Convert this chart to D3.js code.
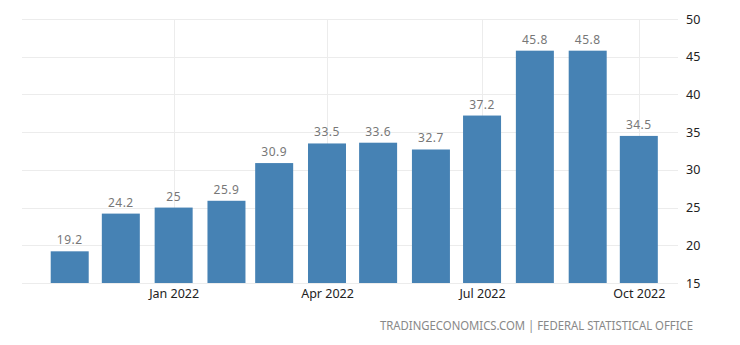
<!DOCTYPE html>
<html>
<head>
<meta charset="utf-8">
<script src="https://cdn.jsdelivr.net/npm/d3@7"></script>
<style>
  html, body { margin: 0; padding: 0; background: #fff; }
  svg { display: block; font-family: "Noto Sans", "Open Sans", sans-serif; }
</style>
</head>
<body>
<svg id="chart" width="740" height="345"></svg>
<script>
// Monthly values, Nov 2021 – Oct 2022
const months = ["2021-11", "2021-12", "2022-01", "2022-02", "2022-03", "2022-04",
                "2022-05", "2022-06", "2022-07", "2022-08", "2022-09", "2022-10"];
const values = [19.2, 24.2, 25, 25.9, 30.9, 33.5, 33.6, 32.7, 37.2, 45.8, 45.8, 34.5];
const yTicks = [15, 20, 25, 30, 35, 40, 45, 50];
const xTickMonths = ["2022-01", "2022-04", "2022-07", "2022-10"];
const sourceText = "TRADINGECONOMICS.COM | FEDERAL STATISTICAL OFFICE";

const parse = d3.timeParse("%Y-%m");
const fmt = d3.timeFormat("%b %Y");

const svg = d3.select("#chart");
const plot = { left: 22, right: 678, top: 19, bottom: 283 };

const x = d3.scaleTime()
  .domain([new Date(2021, 9, 4), new Date(2022, 9, 24)])
  .range([plot.left, plot.right]);

const y = d3.scaleLinear()
  .domain([15, 50])
  .range([plot.bottom, plot.top]);

const barW = 38;

// horizontal grid
svg.append("g")
  .selectAll("line")
  .data(yTicks)
  .join("line")
  .attr("x1", plot.left)
  .attr("x2", plot.right)
  .attr("y1", d => Math.round(y(d)) + 0.5)
  .attr("y2", d => Math.round(y(d)) + 0.5)
  .attr("stroke", "#ececec")
  .attr("stroke-width", 1);

// vertical grid at labelled months
svg.append("g")
  .selectAll("line")
  .data(xTickMonths.map(parse))
  .join("line")
  .attr("x1", d => Math.round(x(d)) + 0.5)
  .attr("x2", d => Math.round(x(d)) + 0.5)
  .attr("y1", plot.top)
  .attr("y2", plot.bottom)
  .attr("stroke", "#ececec")
  .attr("stroke-width", 1);

// bars
const data = months.map((m, i) => ({ date: parse(m), value: values[i] }));

svg.append("g")
  .selectAll("rect")
  .data(data)
  .join("rect")
  .attr("x", d => x(d.date) - barW / 2)
  .attr("width", barW)
  .attr("y", d => y(d.value))
  .attr("height", d => y(15) - y(d.value))
  .attr("fill", "#4682b4");

// value labels
svg.append("g")
  .selectAll("text")
  .data(data)
  .join("text")
  .attr("x", d => x(d.date))
  .attr("y", d => y(d.value) - 7)
  .attr("text-anchor", "middle")
  .attr("font-size", 12)
  .attr("fill", "#777")
  .attr("letter-spacing", "0.5px")
  .text(d => String(d.value));

// right y axis
const yAxis = d3.axisRight(y).tickValues(yTicks).tickSize(0).tickPadding(8);
svg.append("g")
  .attr("transform", `translate(${plot.right},0)`)
  .call(yAxis)
  .call(g => g.select(".domain").remove())
  .call(g => g.selectAll("text")
    .attr("font-family", "Noto Sans, sans-serif")
    .attr("font-size", 12.5)
    .attr("fill", "#222"));

// bottom x axis
const xAxis = d3.axisBottom(x)
  .tickValues(xTickMonths.map(parse))
  .tickFormat(fmt)
  .tickSize(0)
  .tickPadding(6);
svg.append("g")
  .attr("transform", `translate(0,${plot.bottom})`)
  .call(xAxis)
  .call(g => g.select(".domain").remove())
  .call(g => g.selectAll("text")
    .attr("font-family", "Noto Sans, sans-serif")
    .attr("font-size", 12.5)
    .attr("fill", "#222"));

// source line
svg.append("text")
  .attr("x", 693)
  .attr("y", 330)
  .attr("text-anchor", "end")
  .attr("font-size", 12)
  .attr("textLength", 313)
  .attr("lengthAdjust", "spacingAndGlyphs")
  .attr("fill", "#888")
  .text(sourceText);
</script>
</body>
</html>
